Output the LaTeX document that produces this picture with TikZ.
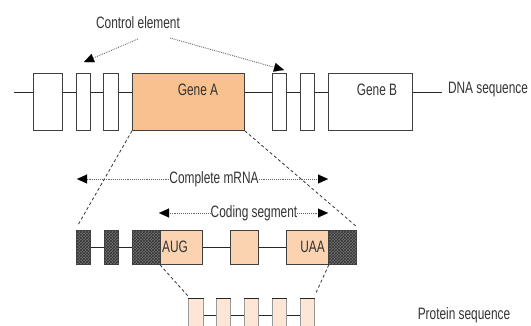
\documentclass[tikz,border=0pt]{standalone}
\usepackage{fontspec}
\setmainfont{Liberation Sans}
\usetikzlibrary{arrows.meta,patterns}
\newcommand{\narrowtxt}[1]{\scalebox{0.72}[1]{#1}}
\definecolor{geneA}{HTML}{F8C190}
\definecolor{mrna}{HTML}{FBD3B1}
\definecolor{prot}{HTML}{FDE6D6}
\begin{document}
\begin{tikzpicture}[x=1pt,y=-1pt,
  txt/.style={font=\fontsize{16.5}{18}\selectfont, text=black!80, inner sep=0pt},
  gbox/.style={draw=black!75, line width=0.8pt, fill=white, inner sep=0pt, anchor=north west},
  hbox/.style={draw=black!75, line width=0.8pt, inner sep=0pt, anchor=north west,
     preaction={fill=black!55}, pattern=crosshatch, pattern color=black!80},
  pbox/.style={draw=black!40, line width=0.8pt, fill=prot, inner sep=0pt, anchor=north west},
  wire/.style={draw=black!85, line width=0.9pt},
  dsh/.style={draw=black!80, line width=0.8pt, dash pattern=on 3pt off 2.5pt},
  darr/.style={draw=black!60, line width=0.9pt, densely dotted,
     -{Triangle[length=10pt,width=9pt,fill=black,color=black,line width=0.1pt]}}
]
\useasboundingbox (0,0) rectangle (531,325);

% ---------- DNA row ----------
\coordinate (L) at (0,92);
\coordinate (dstart) at (14,92);
\node[gbox, minimum width=29pt, minimum height=57pt] (b1) at (33,73) {};
\node[gbox, minimum width=14pt, minimum height=57pt] (b2) at (76,73) {};
\node[gbox, minimum width=15pt, minimum height=57pt] (b3) at (103,73) {};
\node[gbox, fill=geneA, minimum width=112pt, minimum height=57pt] (ga) at (132,73) {};
\node[gbox, minimum width=14pt, minimum height=57pt] (b4) at (272,73) {};
\node[gbox, minimum width=14pt, minimum height=57pt] (b5) at (300,73) {};
\node[gbox, minimum width=84pt, minimum height=57pt] (gb) at (328,73) {};
\node[txt] (gat) at (198,90) {\narrowtxt{Gene A}};
\node[txt] (gbt) at (377,90) {\narrowtxt{Gene B}};
\node[txt] (dna) at (488,90) {\narrowtxt{DNA sequence}};
\coordinate (dend) at (442,92);
\draw[wire] (dstart) -- (b1.west |- L);
\draw[wire] (b1.east |- L) -- (b2.west |- L);
\draw[wire] (b2.east |- L) -- (b3.west |- L);
\draw[wire] (b3.east |- L) -- (ga.west |- L);
\draw[wire] (ga.east |- L) -- (b4.west |- L);
\draw[wire] (b4.east |- L) -- (b5.west |- L);
\draw[wire] (b5.east |- L) -- (gb.west |- L);
\draw[wire] (gb.east |- L) -- (dend);

% ---------- Control element ----------
\node[txt] (ce) at (138,23) {\narrowtxt{Control element}};
\coordinate (ceL) at (138,39);
\coordinate (ceR) at (170,38);
\coordinate (tipL) at (84,62);
\coordinate (tipR) at (284,70);
\draw[darr] (ceL) -- (tipL);
\draw[darr] (ceR) -- (tipR);

% ---------- mRNA row ----------
\coordinate (M) at (0,247);
\node[hbox, minimum width=14pt, minimum height=34pt] (h1) at (76,230) {};
\node[hbox, minimum width=14pt, minimum height=34pt] (h2) at (104,230) {};
\node[hbox, minimum width=28pt, minimum height=34pt] (h3) at (132,230) {};
\node[gbox, fill=mrna, minimum width=42pt, minimum height=34pt] (aug) at (160,230) {};
\node[gbox, fill=mrna, minimum width=28pt, minimum height=34pt] (mid) at (230,230) {};
\node[gbox, fill=mrna, minimum width=42pt, minimum height=34pt] (uaa) at (286,230) {};
\node[hbox, minimum width=28pt, minimum height=34pt] (h4) at (328,230) {};
\node[txt, anchor=west] (augt) at (162,247) {\narrowtxt{AUG}};
\node[txt, anchor=east] (uaat) at (325,247) {\narrowtxt{UAA}};
\draw[wire] (h1.east |- M) -- (h2.west |- M);
\draw[wire] (h2.east |- M) -- (h3.west |- M);
\draw[wire] (aug.east |- M) -- (mid.west |- M);
\draw[wire] (mid.east |- M) -- (uaa.west |- M);

% ---------- spans ----------
\node[txt] (cm) at (214,179) {\narrowtxt{Complete mRNA}};
\coordinate (cmL) at (77,179);
\coordinate (cmR) at (328,179);
\draw[darr] (cm.west) -- (cmL);
\draw[darr] (cm.east) -- (cmR);
\node[txt] (cs) at (254,213) {\narrowtxt{Coding segment}};
\coordinate (csL) at (159,213);
\coordinate (csR) at (328,213);
\draw[darr] (cs.west) -- (csL);
\draw[darr] (cs.east) -- (csR);

% ---------- expansion lines ----------
\coordinate (eL) at (78,225);
\coordinate (eR) at (357,227);
\draw[dsh] (ga.south west) -- (eL);
\draw[dsh] (ga.south east) -- (eR);

% ---------- protein row ----------
\coordinate (P) at (0,315);
\node[pbox, minimum width=15pt, minimum height=40pt] (p1) at (188,298) {};
\node[pbox, minimum width=14pt, minimum height=40pt] (p2) at (216,298) {};
\node[pbox, minimum width=14pt, minimum height=40pt] (p3) at (244,298) {};
\node[pbox, minimum width=14pt, minimum height=40pt] (p4) at (272,298) {};
\node[pbox, minimum width=14pt, minimum height=40pt] (p5) at (300,298) {};
\draw[black!85, line width=0.9pt] (p1.north west) -- (p1.north east) (p2.north west) -- (p2.north east)
  (p3.north west) -- (p3.north east) (p4.north west) -- (p4.north east) (p5.north west) -- (p5.north east);
\draw[wire] (p1.east |- P) -- (p2.west |- P);
\draw[wire] (p2.east |- P) -- (p3.west |- P);
\draw[wire] (p3.east |- P) -- (p4.west |- P);
\draw[wire] (p4.east |- P) -- (p5.west |- P);
\node[txt] (ps) at (464,315) {\narrowtxt{Protein sequence}};

\coordinate (pL) at (188,296);
\coordinate (pR) at (315,295);
\draw[dsh] (aug.south west) -- (pL);
\draw[dsh] (uaa.south east) -- (pR);
\end{tikzpicture}
\end{document}
